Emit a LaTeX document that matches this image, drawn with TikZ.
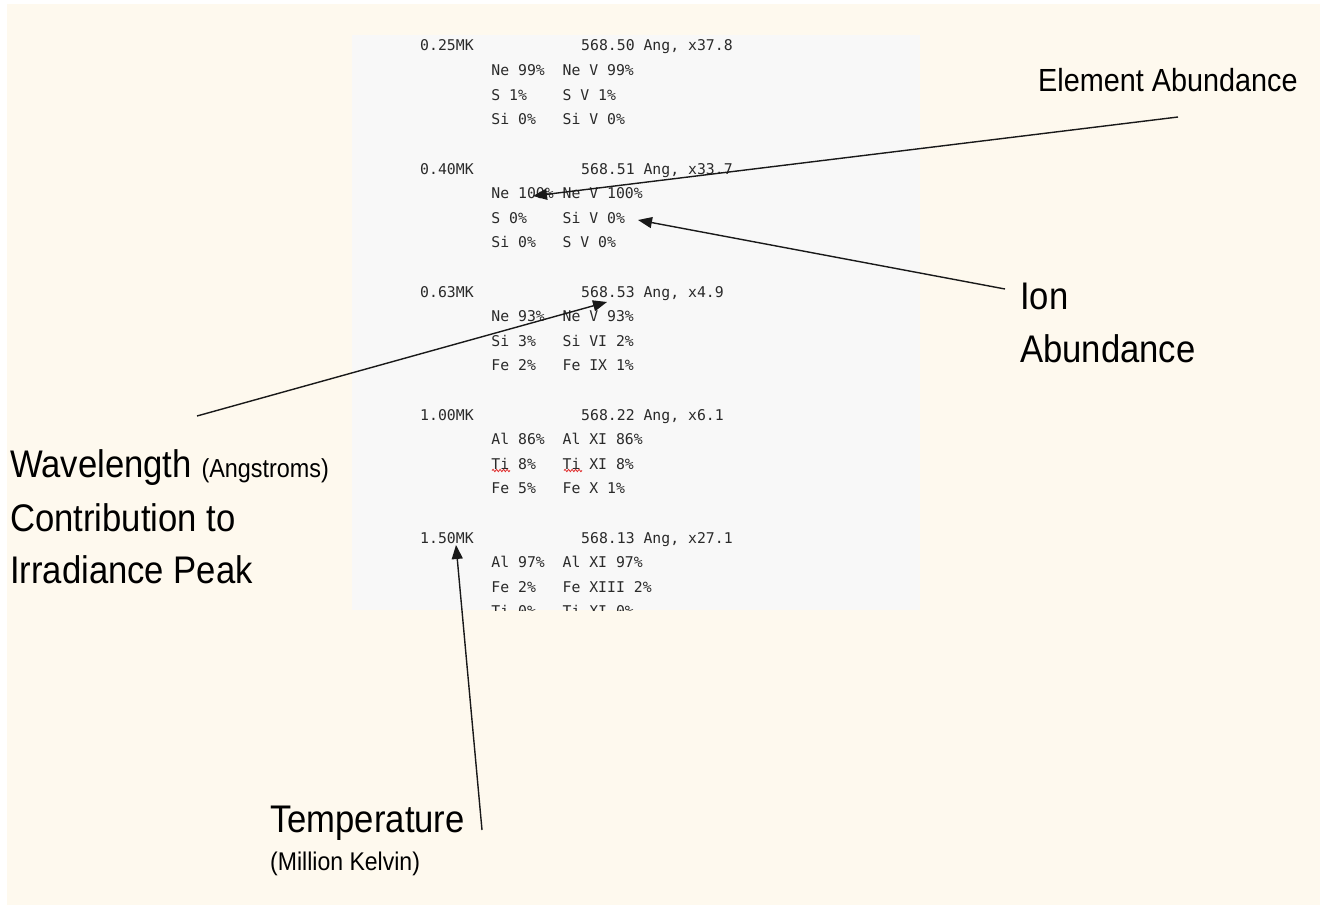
\documentclass[tikz,border=0pt]{standalone}
\usepackage{fontspec}
\setmainfont{Liberation Sans}
\newfontfamily\labelfont[FakeStretch=0.9]{Liberation Sans}
\newfontfamily\consfont{DejaVu Sans Mono}
\usetikzlibrary{arrows.meta,decorations.pathmorphing}
\definecolor{paper}{HTML}{FEF9EE}
\definecolor{panelgray}{HTML}{F8F8F8}
\definecolor{monotext}{HTML}{2A2A2A}
\definecolor{spellred}{HTML}{E03030}

\begin{document}
\begin{tikzpicture}[x=1pt,y=-1pt,
  readout/.style={font=\consfont\fontsize{14.8}{14.8}\selectfont, text=monotext,
    anchor=base west, inner sep=0pt},
  biglabel/.style={font=\labelfont\fontsize{38.5}{38.5}\selectfont, anchor=base west,
    inner sep=0pt},
  smalllabel/.style={font=\labelfont\fontsize{25.6}{25.6}\selectfont, anchor=base west,
    inner sep=0pt},
  pointer/.style={-{Triangle[length=14pt,width=11pt]}, line width=1.4pt, black!90},
  squiggle/.style={spellred, line width=0.8pt,
    decorate, decoration={snake, amplitude=1.2pt, segment length=3.5pt}}]

\useasboundingbox (0,0) rectangle (1323,907);
\fill[white] (0,0) rectangle (1323,907);
\fill[paper] (7,4) rectangle (1320,905);
\fill[panelgray] (352,35) rectangle (920,610);

% the readout panel: temperature, peak wavelength, element and ion shares
\begin{scope}
  \clip (352,35) rectangle (920,610);
  \foreach \g/\tk/\wl/\ea/\ia/\eb/\ib/\ec/\ic in {
    0/0.25MK/{568.50 Ang, x37.8}/{Ne 99\%}/{Ne V 99\%}/{S 1\%}/{S V 1\%}/{Si 0\%}/{Si V 0\%},
    1/0.40MK/{568.51 Ang, x33.7}/{Ne 100\%}/{Ne V 100\%}/{S 0\%}/{Si V 0\%}/{Si 0\%}/{S V 0\%},
    2/0.63MK/{568.53 Ang, x4.9}/{Ne 93\%}/{Ne V 93\%}/{Si 3\%}/{Si VI 2\%}/{Fe 2\%}/{Fe IX 1\%},
    3/1.00MK/{568.22 Ang, x6.1}/{Al 86\%}/{Al XI 86\%}/{Ti 8\%}/{Ti XI 8\%}/{Fe 5\%}/{Fe X 1\%},
    4/1.50MK/{568.13 Ang, x27.1}/{Al 97\%}/{Al XI 97\%}/{Fe 2\%}/{Fe XIII 2\%}/{Ti 0\%}/{Ti XI 0\%}}{
    \pgfmathsetmacro\yb{51+123*\g}
    \node[readout] (temp\g) at (420,\yb) {\tk};
    \node[readout] (wave\g) at (581,\yb) {\wl};
    \node[readout] (elemA\g) at (491.2,\yb+24.6) {\ea};
    \node[readout] (ionA\g)  at (562.4,\yb+24.6) {\ia};
    \node[readout] (elemB\g) at (491.2,\yb+49.2) {\eb};
    \node[readout] (ionB\g)  at (562.4,\yb+49.2) {\ib};
    \node[readout] (elemC\g) at (491.2,\yb+73.8) {\ec};
    \node[readout] (ionC\g)  at (562.4,\yb+73.8) {\ic};
  }
  % spell-check marks under "Ti"
  \draw[squiggle] (492,470.5) -- (510,470.5);
  \draw[squiggle] (564,470.5) -- (582,470.5);
\end{scope}

% captions
\node[biglabel, font=\labelfont\fontsize{32}{32}\selectfont] (elemLabel) at (1038,92) {Element Abundance};
\node[biglabel] (ionLabel) at (1020,309) {Ion};
\node[biglabel] (ionLabel2) at (1020,362) {Abundance};
\node[biglabel] (waveLabel) at (10,477) {Wavelength \fontsize{26}{26}\selectfont(Angstroms)};
\node[biglabel] (waveLabel2) at (10,531) {Contribution to};
\node[biglabel] (waveLabel3) at (10,583) {Irradiance Peak};
\node[biglabel] (tempLabel) at (270,832) {Temperature};
\node[smalllabel] (tempLabel2) at (270,870) {(Million Kelvin)};

% pointer ends
\coordinate (elemTail) at (1178,117);
\coordinate (elemTip)  at (533,196);
\coordinate (ionTail)  at (1005,289);
\coordinate (ionTip)   at (638,220);
\coordinate (waveTail) at (197,416);
\coordinate (waveTip)  at (607,302);
\coordinate (tempTail) at (482,830);
\coordinate (tempTip)  at (456,545);

\draw[pointer] (elemTail) -- (elemTip);
\draw[pointer] (ionTail) -- (ionTip);
\draw[pointer] (waveTail) -- (waveTip);
\draw[pointer] (tempTail) -- (tempTip);
\end{tikzpicture}
\end{document}
